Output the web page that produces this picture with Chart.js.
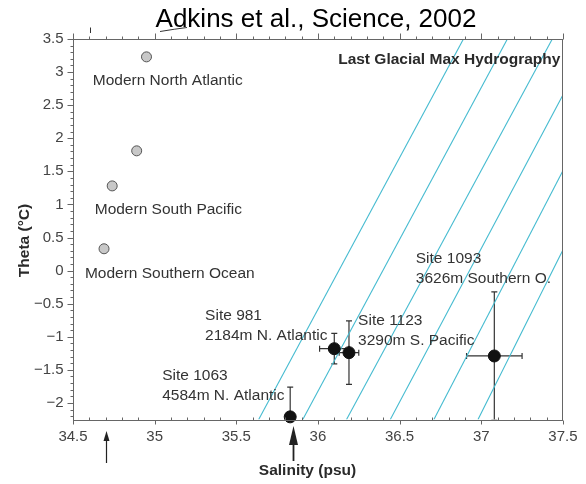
<!DOCTYPE html>
<html>
<head>
<meta charset="utf-8">
<script src="https://cdn.jsdelivr.net/npm/chart.js@4.4.1/dist/chart.umd.min.js"></script>
<style>
  html, body { margin: 0; padding: 0; background: #fff; }
  #chart { display: block; }
</style>
</head>
<body>
<canvas id="chart" width="586" height="484"></canvas>
<script>
// Modern water masses (grey dots)
const modernSal = [34.95, 34.89, 34.74, 34.69];
const modernTheta = [3.23, 1.81, 1.28, 0.33];

// LGM pore-water sites (black dots with error bars)
const siteNames = ['Site 1063', 'Site 981', 'Site 1123', 'Site 1093'];
const siteDepths = ['4584m N. Atlantic', '2184m N. Atlantic', '3290m S. Pacific', '3626m Southern O.'];
const siteSal = [35.83, 36.10, 36.19, 37.08];
const siteTheta = [-2.21, -1.18, -1.24, -1.29];
const siteSalErr = [0, 0.09, 0.06, 0.17];
const siteThetaErr = [0.45, 0.23, 0.48, 0.97];

// Isopycnal lines: start and end points (salinity, theta)
const isoSal0 = [35.637, 35.907, 36.175, 36.443, 36.71, 36.98];
const isoTheta0 = [-2.25, -2.25, -2.25, -2.25, -2.25, -2.25];
const isoSal1 = [36.891, 37.16, 37.435, 37.5, 37.5, 37.5];
const isoTheta1 = [3.5, 3.5, 3.5, 2.654, 1.51, 0.312];

// Arrows under the salinity axis
const arrowSal = [34.7, 35.85];

// Axis ticks
const xTickValues = [34.5, 35, 35.5, 36, 36.5, 37, 37.5];
const xTickLabels = ['34.5', '35', '35.5', '36', '36.5', '37', '37.5'];
const yTickValues = [-2, -1.5, -1, -0.5, 0, 0.5, 1, 1.5, 2, 2.5, 3, 3.5];
const yTickLabels = ['\u22122', '\u22121.5', '\u22121', '\u22120.5', '0', '0.5', '1', '1.5', '2', '2.5', '3', '3.5'];

// Text labels, anchored in data units (left edge, first line middle)
const modernLabels = [
  { text: 'Modern North Atlantic', s: 34.621, t: 2.865 },
  { text: 'Modern South Pacific', s: 34.633, t: 0.916 },
  { text: 'Modern Southern Ocean', s: 34.573, t: -0.051 }
];
const siteLabelPos = [
  { s: 35.046, t: -1.592 },
  { s: 35.309, t: -0.686 },
  { s: 36.246, t: -0.757 },
  { s: 36.599, t: 0.186 }
];

const FONT = '"Liberation Sans", Arial, sans-serif';
const AXIS = '#666';
const ISO = '#45bbd0';

function pts(xs, ys) {
  return xs.map((x, i) => ({ x: x, y: ys[i] }));
}

const isoDatasets = isoSal0.map((s, i) => ({
  data: [{ x: s, y: isoTheta0[i] }, { x: isoSal1[i], y: isoTheta1[i] }],
  showLine: true,
  borderColor: ISO,
  borderWidth: 1.1,
  pointRadius: 0,
  fill: false
}));

function drawArrow(ctx, x, tipY, headH, headW, endY, lw) {
  ctx.lineWidth = lw;
  ctx.beginPath();
  ctx.moveTo(x, tipY + headH - 1);
  ctx.lineTo(x, endY);
  ctx.stroke();
  ctx.beginPath();
  ctx.moveTo(x, tipY);
  ctx.lineTo(x - headW / 2, tipY + headH);
  ctx.lineTo(x + headW / 2, tipY + headH);
  ctx.closePath();
  ctx.fill();
}

const overlay = {
  id: 'overlay',
  beforeDatasetsDraw(chart) {
    const { ctx, chartArea: a } = chart;
    const xs = chart.scales.x, ys = chart.scales.y;
    ctx.save();
    ctx.beginPath();
    ctx.rect(a.left, a.top, a.right - a.left, a.bottom - a.top);
    ctx.clip();
    ctx.strokeStyle = '#333';
    ctx.lineWidth = 1.2;
    const cap = 3;
    siteSal.forEach((s, i) => {
      const x = xs.getPixelForValue(s), y = ys.getPixelForValue(siteTheta[i]);
      if (siteThetaErr[i] > 0) {
        const y0 = ys.getPixelForValue(siteTheta[i] + siteThetaErr[i]);
        const y1 = ys.getPixelForValue(siteTheta[i] - siteThetaErr[i]);
        ctx.beginPath();
        ctx.moveTo(x, y0); ctx.lineTo(x, y1);
        ctx.moveTo(x - cap, y0); ctx.lineTo(x + cap, y0);
        ctx.moveTo(x - cap, y1); ctx.lineTo(x + cap, y1);
        ctx.stroke();
      }
      if (siteSalErr[i] > 0) {
        const x0 = xs.getPixelForValue(s - siteSalErr[i]);
        const x1 = xs.getPixelForValue(s + siteSalErr[i]);
        ctx.beginPath();
        ctx.moveTo(x0, y); ctx.lineTo(x1, y);
        ctx.moveTo(x0, y - cap); ctx.lineTo(x0, y + cap);
        ctx.moveTo(x1, y - cap); ctx.lineTo(x1, y + cap);
        ctx.stroke();
      }
    });
    ctx.restore();
  },
  afterDraw(chart) {
    const { ctx, chartArea: a } = chart;
    const xs = chart.scales.x, ys = chart.scales.y;
    ctx.save();

    // frame
    ctx.strokeStyle = AXIS;
    ctx.lineWidth = 1;
    const L = Math.round(a.left) + 0.5, R = Math.round(a.right) - 0.5;
    const T = Math.round(a.top) + 0.5, B = Math.round(a.bottom) + 0.5;
    ctx.strokeRect(L, T, R - L, B - T);

    // tick marks
    ctx.beginPath();
    for (let k = 345; k <= 375; k++) {
      const x = Math.round(xs.getPixelForValue(k / 10)) + 0.5;
      const major = k % 5 === 0;
      ctx.moveTo(x, B); ctx.lineTo(x, major ? B + 4 : B - 3);
      ctx.moveTo(x, T); ctx.lineTo(x, major ? T - 6 : T - 3);
    }
    for (let k = -22; k <= 35; k++) {
      const y = Math.round(ys.getPixelForValue(k / 10)) + 0.5;
      const major = k % 5 === 0;
      ctx.moveTo(L, y); ctx.lineTo(major ? L - 6 : L - 3, y);
    }
    ctx.stroke();

    // text labels
    ctx.fillStyle = '#333';
    ctx.font = '15.5px ' + FONT;
    ctx.textAlign = 'left';
    ctx.textBaseline = 'middle';
    modernLabels.forEach(l => {
      ctx.fillText(l.text, xs.getPixelForValue(l.s), ys.getPixelForValue(l.t));
    });
    siteLabelPos.forEach((p, i) => {
      const x = xs.getPixelForValue(p.s), y = ys.getPixelForValue(p.t);
      ctx.fillText(siteNames[i], x, y);
      ctx.fillText(siteDepths[i], x, y + 20);
    });

    ctx.font = 'bold 15.5px ' + FONT;
    ctx.textAlign = 'right';
    ctx.fillStyle = '#2a2a2a';
    ctx.fillText('Last Glacial Max Hydrography', a.right - 2.5, a.top + 21);

    // axis titles
    ctx.textAlign = 'center';
    ctx.fillText('Salinity (psu)', 307.5, 471);
    ctx.save();
    ctx.translate(25, 240.5);
    ctx.rotate(-Math.PI / 2);
    ctx.fillText('Theta (\u00B0C)', 0, 0);
    ctx.restore();

    // chart title
    ctx.fillStyle = '#000';
    ctx.font = '26px ' + FONT;
    ctx.textBaseline = 'alphabetic';
    ctx.fillText('Adkins et al., Science, 2002', 316, 26.5);
    ctx.strokeStyle = '#333';
    ctx.lineWidth = 1;
    ctx.beginPath();
    ctx.moveTo(160, 31.5); ctx.quadraticCurveTo(175, 29, 187, 27.5);
    ctx.moveTo(90.5, 27.5); ctx.lineTo(90.5, 33);
    ctx.stroke();

    // arrows
    ctx.fillStyle = '#222';
    ctx.strokeStyle = '#222';
    drawArrow(ctx, Math.round(xs.getPixelForValue(arrowSal[0])) + 0.5, 431, 10, 6, 463, 1.2);
    drawArrow(ctx, Math.round(xs.getPixelForValue(arrowSal[1])) + 0.5, 426, 19, 9, 461, 1.8);

    ctx.restore();
  }
};

const ctx = document.getElementById('chart').getContext('2d');
new Chart(ctx, {
  type: 'scatter',
  data: {
    datasets: [
      {
        data: pts(siteSal, siteTheta),
        pointRadius: 6,
        pointBackgroundColor: '#111',
        pointBorderColor: '#111',
        pointBorderWidth: 1,
        clip: false
      },
      {
        data: pts(modernSal, modernTheta),
        pointRadius: 5,
        pointBackgroundColor: '#c8c8c8',
        pointBorderColor: '#555',
        pointBorderWidth: 1
      },
      ...isoDatasets
    ]
  },
  options: {
    responsive: false,
    animation: false,
    devicePixelRatio: 1,
    layout: { padding: { top: 39, right: 17, left: 0, bottom: 0 } },
    plugins: {
      legend: { display: false },
      tooltip: { enabled: false },
      title: { display: false }
    },
    scales: {
      x: {
        type: 'linear',
        min: 34.5,
        max: 37.5,
        grid: { display: false, drawTicks: false },
        border: { display: false },
        afterBuildTicks: s => { s.ticks = xTickValues.map(v => ({ value: v })); },
        afterFit: s => { s.height = 64.5; },
        ticks: {
          padding: 8.5,
          color: '#444',
          maxRotation: 0,
          autoSkip: false,
          font: { family: FONT, size: 15 },
          callback: (v, i) => xTickLabels[i]
        }
      },
      y: {
        type: 'linear',
        min: -2.25,
        max: 3.5,
        grid: { display: false, drawTicks: false },
        border: { display: false },
        afterBuildTicks: s => { s.ticks = yTickValues.map(v => ({ value: v })); },
        afterFit: s => { s.width = 73; },
        ticks: {
          padding: 9.5,
          color: '#444',
          autoSkip: false,
          font: { family: FONT, size: 15 },
          callback: (v, i) => yTickLabels[i]
        }
      }
    }
  },
  plugins: [overlay]
});
</script>
</body>
</html>
